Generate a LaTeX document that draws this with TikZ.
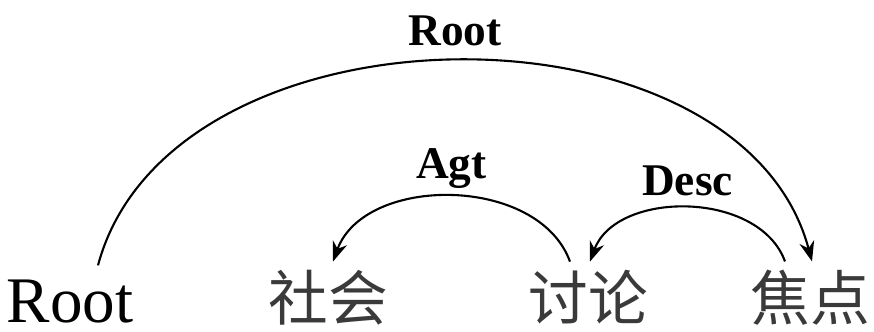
\documentclass[tikz,border=0pt]{standalone}
\usepackage{fontspec}
\setmainfont{Liberation Serif}
\newfontfamily\cjk{Noto Sans CJK SC}
\usetikzlibrary{arrows.meta, positioning}
\definecolor{wordgray}{HTML}{3A3A3A}

\begin{document}
\begin{tikzpicture}[>=Stealth, line width=0.6pt,
  word/.style={anchor=base, inner sep=2pt, font=\fontsize{18.5}{22}\selectfont},
  hanzi/.style={word, text=wordgray, font=\fontsize{17}{20}\selectfont\cjk},
  rel/.style={font=\fontsize{12.9}{15}\selectfont\bfseries, inner sep=3pt}]
  \useasboundingbox (0,0) rectangle (8.74,3.31);

  % Sentence
  \node[word] (root) at (0.70, 0.09) {Root};
  \node[hanzi] (shehui) at (3.28, 0.11) {社会};
  \node[hanzi] (taolun) at (5.88, 0.11) {讨论};
  \node[hanzi] (jiaodian) at (8.10, 0.11) {焦点};

  % Dependency arcs
  \draw[->] ([xshift=0.28cm, yshift=0.06cm]root.north) to[out=75, in=105]
    node[rel, above, inner sep=4pt] (lroot) {Root} ([xshift=0.02cm]jiaodian.north);
  \draw[->] ([xshift=-0.18cm]taolun.north) to[out=110, in=70]
    node[rel, above, inner sep=2pt] (lagt) {Agt} ([xshift=0.05cm]shehui.north);
  \draw[->] ([xshift=-0.25cm]jiaodian.north) to[out=110, in=70]
    node[rel, above] (ldesc) {Desc} ([xshift=0.02cm]taolun.north);
\end{tikzpicture}
\end{document}
